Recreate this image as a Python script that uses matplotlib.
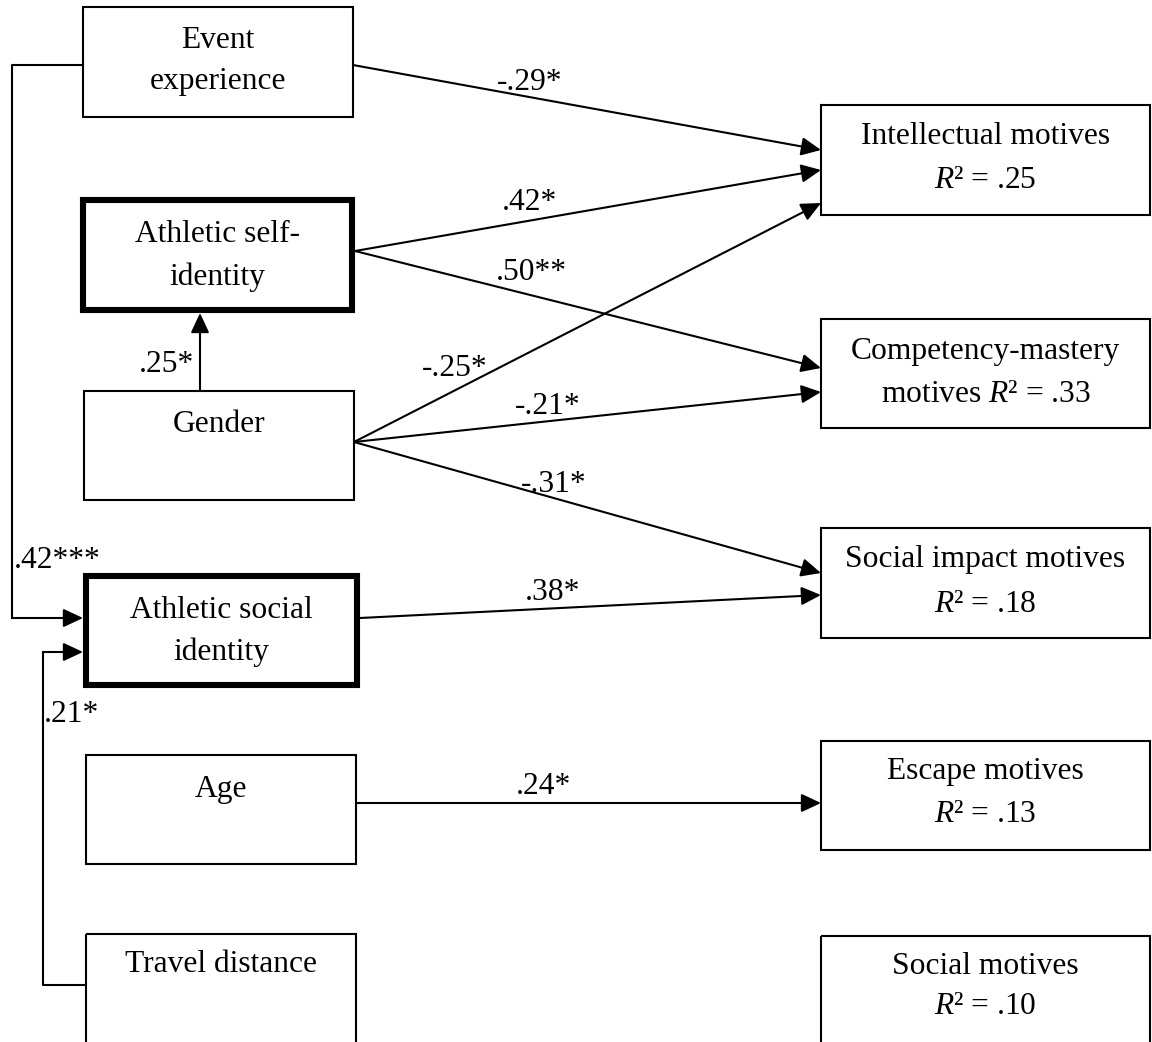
import matplotlib
matplotlib.use("Agg")
import matplotlib.pyplot as plt
from matplotlib.patches import Rectangle
from matplotlib.lines import Line2D

plt.rcParams["font.family"] = ["Liberation Serif", "DejaVu Serif"]
plt.rcParams["mathtext.fontset"] = "custom"
plt.rcParams["mathtext.rm"] = "Liberation Serif"
plt.rcParams["mathtext.it"] = "Liberation Serif:italic"

# ---- model content -------------------------------------------------------
predictors = ["Event\nexperience", "Athletic self-\nidentity", "Gender",
              "Athletic social\nidentity", "Age", "Travel distance"]
outcomes = ["Intellectual motives", "Competency-mastery", "Social impact motives",
            "Escape motives", "Social motives"]
r_squared = [".25", ".33", ".18", ".13", ".10"]

# (source, target, coefficient)
paths_to_outcomes = [
    ("Event", "Intellectual", "-.29*"),
    ("SelfId", "Intellectual", ".42*"),
    ("SelfId", "Competency", ".50**"),
    ("Gender", "Intellectual", "-.25*"),
    ("Gender", "Competency", "-.21*"),
    ("Gender", "SocialImpact", "-.31*"),
    ("SocialId", "SocialImpact", ".38*"),
    ("Age", "Escape", ".24*"),
]
coef_gender_selfid = ".25*"
coef_event_socialid = ".42***"
coef_travel_socialid = ".21*"

# ---- layout (pixel space) -----------------------------------------------
W, H = 1152, 1042
fig = plt.figure(figsize=(W / 100, H / 100), dpi=100)
ax = fig.add_axes([0, 0, 1, 1])
ax.set_xlim(0, W)
ax.set_ylim(H, 0)
ax.axis("off")

FS = 22.7
THIN = 1.5
THICK = 4.4
ARROW = "-|>,head_length=0.6,head_width=0.28"
DY = 2  # small downward nudge for box text

left_boxes = {
    # key: (x0, y0, x1, y1, thick, text line ys)
    "Event": (83, 7, 353, 117, False, (38, 80)),
    "SelfId": (83, 200, 352, 310, True, (233, 275)),
    "Gender": (84, 391, 354, 500, False, (422,)),
    "SocialId": (86, 576, 357, 685, True, (608, 650)),
    "Age": (86, 755, 356, 864, False, (787,)),
    "Travel": (86, 934, 356, 1070, False, (963,)),
}
right_boxes = {
    "Intellectual": (821, 105, 1150, 215, (135, 178)),
    "Competency": (821, 319, 1150, 428, (350, 392)),
    "SocialImpact": (821, 528, 1150, 638, (558, 602)),
    "Escape": (821, 741, 1150, 850, (770, 813)),
    "SocialMot": (821, 936, 1150, 1070, (965, 1005)),
}


def box(x0, y0, x1, y1, lw):
    ax.add_patch(Rectangle((x0, y0), x1 - x0, y1 - y0, fill=False,
                           edgecolor="black", linewidth=lw, zorder=2))


def arrow(p0, p1, lw=THIN):
    ax.annotate("", xy=p1, xytext=p0,
                arrowprops=dict(arrowstyle=ARROW, color="black", lw=lw,
                                shrinkA=0, shrinkB=0, mutation_scale=20),
                zorder=3)


for (key, spec), name in zip(left_boxes.items(), predictors):
    x0, y0, x1, y1, thick, ys = spec
    box(x0, y0, x1, y1, THICK if thick else THIN)
    for line, y in zip(name.split("\n"), ys):
        ax.text((x0 + x1) / 2, y + DY, line, ha="center", va="center", fontsize=FS)

for (key, spec), name, r2 in zip(right_boxes.items(), outcomes, r_squared):
    x0, y0, x1, y1, ys = spec
    box(x0, y0, x1, y1, THIN)
    cx = (x0 + x1) / 2
    if key == "Competency":
        lines = [name, "motives $R$² = " + r2]
    else:
        lines = [name, "$R$² = " + r2]
    for line, y in zip(lines, ys):
        ax.text(cx, y + DY, line, ha="center", va="center", fontsize=FS)

# anchor points where paths leave / enter boxes
starts = {
    "Event": (353, 65),
    "SelfId": (355, 251),
    "Gender": (354, 442),
    "SocialId": (360, 618),
    "Age": (356, 803),
}
ends = {
    ("Event", "Intellectual"): (821, 150),
    ("SelfId", "Intellectual"): (821, 170),
    ("SelfId", "Competency"): (821, 368),
    ("Gender", "Intellectual"): (821, 203),
    ("Gender", "Competency"): (821, 392),
    ("Gender", "SocialImpact"): (821, 573),
    ("SocialId", "SocialImpact"): (821, 595),
    ("Age", "Escape"): (821, 803),
}
label_pos = {
    ("Event", "Intellectual"): (530, 80),
    ("SelfId", "Intellectual"): (530, 200),
    ("SelfId", "Competency"): (531, 270),
    ("Gender", "Intellectual"): (455, 367),
    ("Gender", "Competency"): (548, 405),
    ("Gender", "SocialImpact"): (554, 482),
    ("SocialId", "SocialImpact"): (553, 590),
    ("Age", "Escape"): (543, 785),
}

for src, dst, coef in paths_to_outcomes:
    arrow(starts[src], ends[(src, dst)])
    lx, ly = label_pos[(src, dst)]
    ax.text(lx, ly + DY, coef, ha="center", va="center", fontsize=FS)

# Gender -> Athletic self-identity
arrow((200, 391), (200, 313))
ax.text(194, 362 + DY, coef_gender_selfid, ha="right", va="center", fontsize=FS)

# Event experience -> Athletic social identity (elbow on the left)
ax.add_line(Line2D([83, 12, 12], [65, 65, 618], color="black", lw=THIN))
arrow((12, 618), (83, 618))
ax.text(14, 558 + DY, coef_event_socialid, ha="left", va="center", fontsize=FS)

# Travel distance -> Athletic social identity
ax.add_line(Line2D([86, 43, 43], [985, 985, 652], color="black", lw=THIN))
arrow((43, 652), (83, 652))
ax.text(44, 713 + DY, coef_travel_socialid, ha="left", va="center", fontsize=FS)

fig.savefig("out.png", dpi=100, facecolor="white")
